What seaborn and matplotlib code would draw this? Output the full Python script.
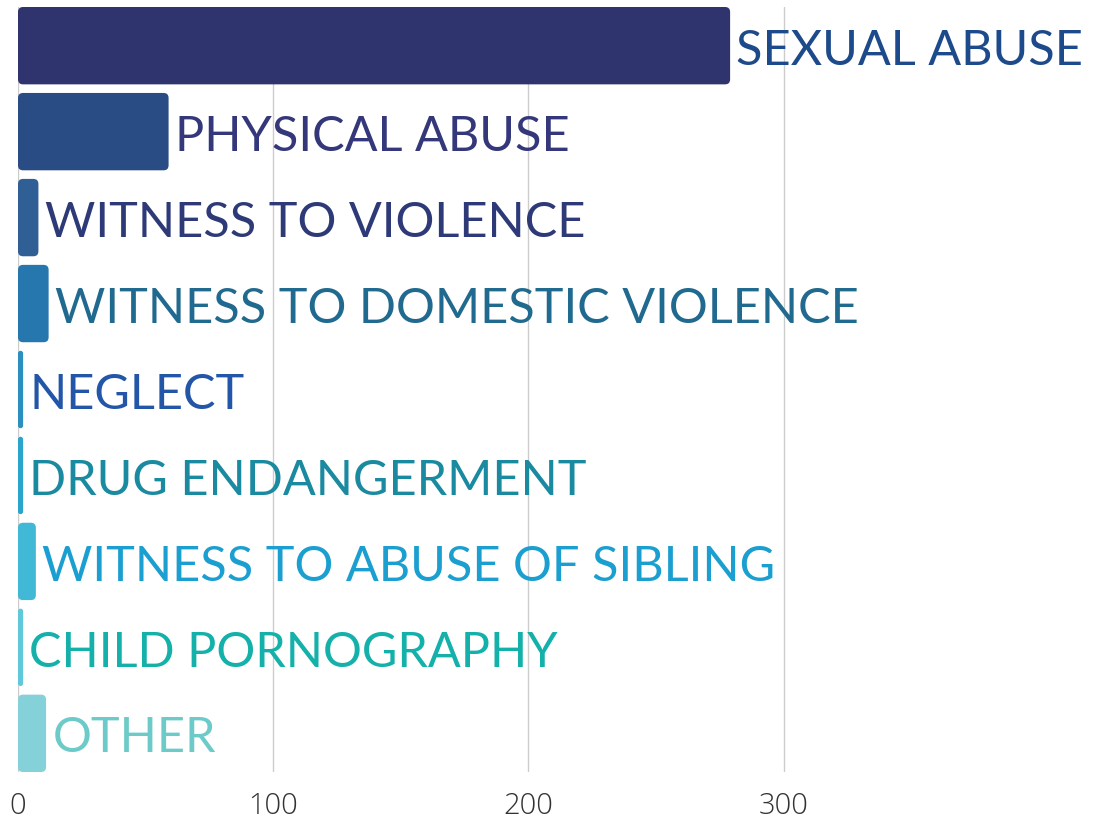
import matplotlib.pyplot as plt
import pandas as pd
import seaborn as sns
from matplotlib.patches import FancyBboxPatch

categories = [
    "SEXUAL ABUSE",
    "PHYSICAL ABUSE",
    "WITNESS TO VIOLENCE",
    "WITNESS TO DOMESTIC VIOLENCE",
    "NEGLECT",
    "DRUG ENDANGERMENT",
    "WITNESS TO ABUSE OF SIBLING",
    "CHILD PORNOGRAPHY",
    "OTHER",
]
counts = [279, 59, 8, 12, 2, 2, 7, 2, 11]
bar_colors = ["#30346e", "#2a4c85", "#305f96", "#2677ad", "#2b8fbf",
              "#2ba5cc", "#41b8d6", "#5fc8da", "#84d1da"]
label_colors = ["#1d4a8a", "#34387a", "#2e3a78", "#216a8f", "#2456a8",
                "#1a8aa0", "#1a9fd0", "#14b0aa", "#6ccbc8"]
xticks = [0, 100, 200, 300]

sns.set_theme(style="white")
plt.rcParams["font.family"] = ["Lato", "DejaVu Sans"]

df = pd.DataFrame({"category": categories, "count": counts})

fig = plt.figure(figsize=(10.95, 8.24), dpi=100)
ax = fig.add_axes([18 / 1095, 52 / 824, 1072 / 1095, 765 / 824])
sns.barplot(data=df, y="category", x="count", hue="category", palette=bar_colors,
            width=0.9, legend=False, ax=ax, saturation=1)

# swap plain rectangles for rounded ones
px_x = 1072 / 420
px_y = 765 / 9
for p in list(ax.patches):
    x0, y0 = p.get_x(), p.get_y()
    w, h = p.get_width(), p.get_height()
    r = min(5 / px_x, w / 2)
    fb = FancyBboxPatch((x0, y0), w, h, boxstyle=f"round,pad=0,rounding_size={r}",
                        mutation_aspect=px_x / px_y, facecolor=p.get_facecolor(),
                        edgecolor="none", zorder=3)
    p.remove()
    ax.add_patch(fb)

for i, (cat, val) in enumerate(zip(categories, counts)):
    ax.text(val + 2.5, i + 0.06, cat, color=label_colors[i], fontsize=35,
            va="center", ha="left", zorder=4)

ax.set_xlim(0, 420)
ax.set_ylim(8.45, -0.45)
ax.set_xticks(xticks)
ax.set_xticklabels([str(t) for t in xticks], fontsize=21, color="#333333",
                   family=["Open Sans", "DejaVu Sans"], fontweight="light")
ax.set_yticks([])
ax.set_xlabel("")
ax.set_ylabel("")
ax.grid(axis="x", color="#cccccc", linewidth=1, zorder=0)
ax.set_axisbelow(True)
ax.tick_params(axis="x", length=0, pad=14)
for s in ax.spines.values():
    s.set_visible(False)

fig.savefig("out.png", dpi=100)
